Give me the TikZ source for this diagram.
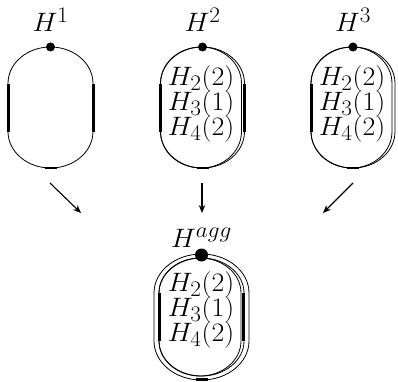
\documentclass[tikz,border=0pt]{standalone}
\usetikzlibrary{arrows.meta}
\newcommand\stadium[6]{% cx, cy, hw, hs, ry, style
  \draw[#6] (#1-#3,#2-#4) -- (#1-#3,#2+#4)
    arc[start angle=180,end angle=0,x radius=#3,y radius=#5]
    -- (#1+#3,#2-#4)
    arc[start angle=0,end angle=-180,x radius=#3,y radius=#5] -- cycle;}
\newcommand\tx[1]{\scalebox{1.12}[1.07]{$#1$}}
\tikzset{
  outline/.style={line width=0.8pt},
  bar/.style={line width=3pt},
  botbar/.style={line width=2.5pt},
  lbl/.style={anchor=base,inner sep=0pt,font=\Huge},
  arr/.style={line width=1.1pt,-{Stealth[length=8pt,width=6.5pt]}}
}
\begin{document}
\begin{tikzpicture}[x=1pt,y=1pt]
\useasboundingbox (0,0) rectangle (398,381);
% ---------- H^1 ----------
\stadium{50.5}{273.5}{42.5}{24}{36.5}{outline}
\draw[bar] (8,249.5) -- (8,297.5);
\draw[bar] (93,249.5) -- (93,297.5);
\draw[botbar] (44.5,213) -- (56.5,213);
\fill (50.5,334) circle (4.5);
\node[lbl] (h1) at (50.5,349) {\tx{H^1}};
% ---------- H^2 ----------
\stadium{202.5}{273.5}{42}{24}{36.5}{outline}
\stadium{201}{273.5}{40.5}{24}{36.5}{outline}
\draw[bar] (160.5,249.5) -- (160.5,297.5);
\draw[bar] (244.5,249.5) -- (244.5,297.5);
\draw[botbar] (196.5,213) -- (208.5,213);
\fill (202.5,334) circle (4.5);
\node[lbl] (h2) at (202.5,349) {\tx{H^2}};
\node[lbl] (h2a) at (201,296) {\tx{H_2(2)}};
\node[lbl] (h2b) at (201,271) {\tx{H_3(1)}};
\node[lbl] (h2c) at (201,246) {\tx{H_4(2)}};
% ---------- H^3 ----------
\stadium{353}{273.5}{42}{24}{36.5}{outline}
\stadium{351.5}{273.5}{40.5}{24}{36.5}{outline}
\draw[bar] (311,249.5) -- (311,297.5);
\draw[botbar] (347,213) -- (359,213);
\fill (353,334) circle (4.5);
\node[lbl] (h3) at (353,349) {\tx{H^3}};
\node[lbl] (h3a) at (352,296) {\tx{H_2(2)}};
\node[lbl] (h3b) at (352,271) {\tx{H_3(1)}};
\node[lbl] (h3c) at (352,246) {\tx{H_4(2)}};
% ---------- H^agg ----------
\stadium{201.5}{64}{47.5}{24}{39}{outline}
\stadium{201.5}{64}{42.5}{24}{35}{outline}
\stadium{200}{64}{41}{24}{35}{outline}
\draw[bar] (159.5,40) -- (159.5,88);
\draw[bar] (243.5,40) -- (243.5,88);
\draw[botbar] (195.5,1.5) -- (207.5,1.5);
\fill (201.5,126) circle (6.5);
\node[lbl] (hagg) at (201.5,134) {\tx{H^{agg}}};
\node[lbl] (hga) at (201,90) {\tx{H_2(2)}};
\node[lbl] (hgb) at (201,65) {\tx{H_3(1)}};
\node[lbl] (hgc) at (201,40) {\tx{H_4(2)}};
% ---------- arrows ----------
\coordinate (a1s) at (50,198);
\coordinate (a1e) at (81,168);
\coordinate (a2s) at (202,198);
\coordinate (a2e) at (202,168);
\coordinate (a3s) at (353,198);
\coordinate (a3e) at (323,168);
\draw[arr] (a1s) -- (a1e);
\draw[arr] (a2s) -- (a2e);
\draw[arr] (a3s) -- (a3e);
\end{tikzpicture}
\end{document}
